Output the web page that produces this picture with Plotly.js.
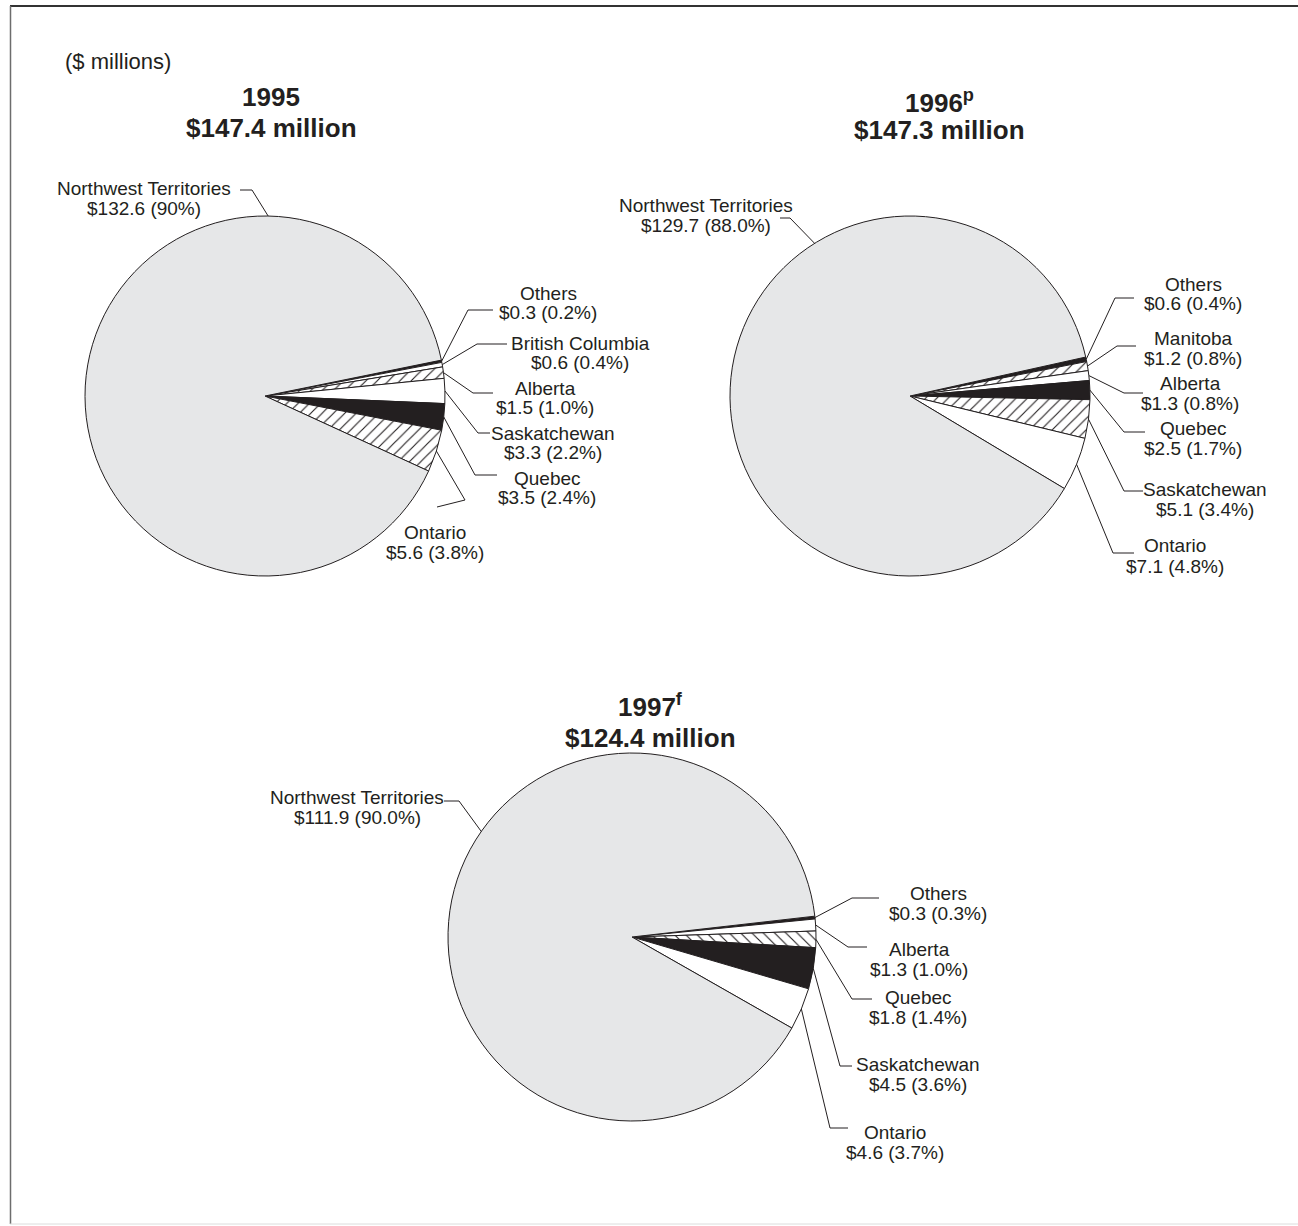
<!DOCTYPE html>
<html>
<head>
<meta charset="utf-8">
<script src="https://cdn.plot.ly/plotly-3.0.1.min.js"></script>
<style>html,body{margin:0;padding:0;background:#fff;}#chart{width:1298px;height:1226px;}</style>
</head>
<body>
<div id="chart"></div>
<script>
// ---------------- DATA ----------------
const unitLabel = '($ millions)';

const title1995 = '1995';
const total1995 = '$147.4 million';
const regions1995 = ['Others', 'British Columbia', 'Alberta', 'Saskatchewan', 'Quebec', 'Ontario', 'Northwest Territories'];
const values1995 = [0.3, 0.6, 1.5, 3.3, 3.5, 5.6, 132.6];
const pct1995 = ['0.2%', '0.4%', '1.0%', '2.2%', '2.4%', '3.8%', '90%'];

const title1996 = '1996<sup>p</sup>';
const total1996 = '$147.3 million';
const regions1996 = ['Others', 'Manitoba', 'Alberta', 'Quebec', 'Saskatchewan', 'Ontario', 'Northwest Territories'];
const values1996 = [0.6, 1.2, 1.3, 2.5, 5.1, 7.1, 129.7];
const pct1996 = ['0.4%', '0.8%', '0.8%', '1.7%', '3.4%', '4.8%', '88.0%'];

const title1997 = '1997<sup>f</sup>';
const total1997 = '$124.4 million';
const regions1997 = ['Others', 'Alberta', 'Quebec', 'Saskatchewan', 'Ontario', 'Northwest Territories'];
const values1997 = [0.3, 1.3, 1.8, 4.5, 4.6, 111.9];
const pct1997 = ['0.3%', '1.0%', '1.4%', '3.6%', '3.7%', '90.0%'];

// ---------------- STYLE / LAYOUT ----------------
const W = 1298, H = 1226;
const INK = '#231f20';
const GRAY = '#e6e7e8';
const FONT = '"Liberation Sans", Arial, Helvetica, sans-serif';
const px = x => x / W;
const py = y => 1 - y / H;

const FILL = {
  gray:  {color: GRAY, shape: ''},
  black: {color: INK, shape: ''},
  white: {color: '#ffffff', shape: ''},
  hatch: {color: '#ffffff', shape: '/'},
  hatchb:{color: '#ffffff', shape: '\\'}
};

// per pie: centre, radius (px), start angle of first slice (deg clockwise from 12 o'clock),
// fills, and label boxes [text centre x, line1 y, line2 y, elbow x, elbow y, end x, end y, rimAngle?]
const pies = [
  {
    labels: regions1995, values: values1995, pct: pct1995,
    title: title1995, total: total1995, tx: 271, ty1: 97, ty2: 128,
    cx: 265, cy: 396, r: 180, rot: 78.5,
    fills: ['black', 'white', 'hatch', 'white', 'black', 'hatch', 'gray'],
    boxes: [
      [548, 293, 313, 468, 310, 493, 310],
      [580, 343, 363, 477, 344, 507, 344],
      [545, 388, 408, 473, 393, 493, 393],
      [553, 433, 453, 478, 433, 490, 433],
      [547, 478, 498, 475, 475, 497, 475],
      [435, 532, 552, 465, 500, 437, 507],
      [144, 188, 208, 252, 190, 240, 190, 1]
    ]
  },
  {
    labels: regions1996, values: values1996, pct: pct1996,
    title: title1996, total: total1996, tx: 940, ty1: 101, ty2: 130,
    cx: 910, cy: 396, r: 180, rot: 77.5,
    fills: ['black', 'hatch', 'white', 'black', 'hatch', 'white', 'gray'],
    boxes: [
      [1193, 284, 304, 1115, 298, 1134, 298],
      [1193, 338, 358, 1117, 346, 1136, 346],
      [1190, 384, 404, 1124, 393, 1143, 393],
      [1193, 429, 449, 1124, 432, 1145, 432],
      [1205, 489, 509, 1124, 491, 1143, 491],
      [1175, 546, 566, 1113, 553, 1134, 553],
      [706, 205, 225, 790, 218, 780, 218, 328]
    ]
  },
  {
    labels: regions1997, values: values1997, pct: pct1997,
    title: title1997, total: total1997, tx: 650, ty1: 705, ty2: 738,
    cx: 632, cy: 937, r: 184, rot: 83.5,
    fills: ['black', 'white', 'hatchb', 'black', 'white', 'gray'],
    boxes: [
      [938, 893, 913, 852, 898, 879, 898],
      [919, 949, 969, 848, 947, 867, 947],
      [918, 997, 1017, 852, 999, 872, 999],
      [918, 1064, 1084, 840, 1066, 852, 1066],
      [895, 1132, 1152, 830, 1128, 848, 1128],
      [357, 797, 817, 459, 801, 444, 801, 305]
    ]
  }
];

const data = [];
const annotations = [];
const shapes = [];

function fmt(v) { return '$' + v.toFixed(1); }

pies.forEach(p => {
  data.push({
    type: 'pie',
    labels: p.labels,
    values: p.values,
    sort: false,
    direction: 'clockwise',
    rotation: p.rot,
    textinfo: 'none',
    textposition: 'none',
    hoverinfo: 'label+value+percent',
    showlegend: false,
    domain: {x: [px(p.cx - p.r), px(p.cx + p.r)], y: [py(p.cy + p.r), py(p.cy - p.r)]},
    marker: {
      colors: p.fills.map(f => FILL[f].color),
      line: {color: INK, width: 1},
      pattern: {
        shape: p.fills.map(f => FILL[f].shape),
        fgcolor: INK,
        bgcolor: p.fills.map(f => FILL[f].color),
        size: 8,
        solidity: 0.14
      }
    }
  });

  // titles
  annotations.push({x: px(p.tx), y: py(p.ty1), xref: 'paper', yref: 'paper', text: p.title,
    showarrow: false, xanchor: 'center', yanchor: 'middle', font: {family: FONT, size: 26, color: INK, weight: 'bold'}});
  annotations.push({x: px(p.tx), y: py(p.ty2), xref: 'paper', yref: 'paper', text: p.total,
    showarrow: false, xanchor: 'center', yanchor: 'middle', font: {family: FONT, size: 26, color: INK, weight: 'bold'}});

  const total = p.values.reduce((a, b) => a + b, 0);
  let cum = 0;
  p.values.forEach((v, i) => {
    const b = p.boxes[i];
    const mid = p.rot + (cum + v / 2) / total * 360;
    cum += v;
    const ang = (b.length > 7 ? b[7] : mid) * Math.PI / 180;
    const rx = p.cx + p.r * Math.sin(ang);
    const ry = p.cy - p.r * Math.cos(ang);
    annotations.push({x: px(b[0]), y: py(b[1]), xref: 'paper', yref: 'paper', text: p.labels[i],
      showarrow: false, xanchor: 'center', yanchor: 'middle', font: {family: FONT, size: 19, color: INK}});
    annotations.push({x: px(b[0]), y: py(b[2]), xref: 'paper', yref: 'paper', text: fmt(v) + ' (' + p.pct[i] + ')',
      showarrow: false, xanchor: 'center', yanchor: 'middle', font: {family: FONT, size: 19, color: INK}});
    shapes.push({type: 'path', xref: 'paper', yref: 'paper',
      path: 'M' + px(rx) + ',' + py(ry) + ' L' + px(b[3]) + ',' + py(b[4]) + ' L' + px(b[5]) + ',' + py(b[6]),
      line: {color: INK, width: 1}});
  });
});

annotations.push({x: px(63), y: py(62), xref: 'paper', yref: 'paper', text: unitLabel,
  showarrow: false, xanchor: 'left', yanchor: 'middle', font: {family: FONT, size: 22, color: INK}});

// frame
shapes.push({type: 'line', xref: 'paper', yref: 'paper', x0: px(10), x1: 1, y0: py(6), y1: py(6), line: {color: '#333333', width: 2}});
shapes.push({type: 'line', xref: 'paper', yref: 'paper', x0: px(10.5), x1: px(10.5), y0: py(6), y1: py(1224), line: {color: '#6d6d6d', width: 1.5}});
shapes.push({type: 'line', xref: 'paper', yref: 'paper', x0: px(10), x1: 1, y0: py(1224), y1: py(1224), line: {color: '#dcdcdc', width: 1}});

const layout = {
  width: W, height: H,
  margin: {l: 0, r: 0, t: 0, b: 0},
  paper_bgcolor: '#ffffff',
  plot_bgcolor: '#ffffff',
  showlegend: false,
  annotations: annotations,
  shapes: shapes,
  font: {family: FONT, color: INK}
};

Plotly.newPlot('chart', data, layout, {displayModeBar: false, staticPlot: true});
</script>
</body>
</html>
